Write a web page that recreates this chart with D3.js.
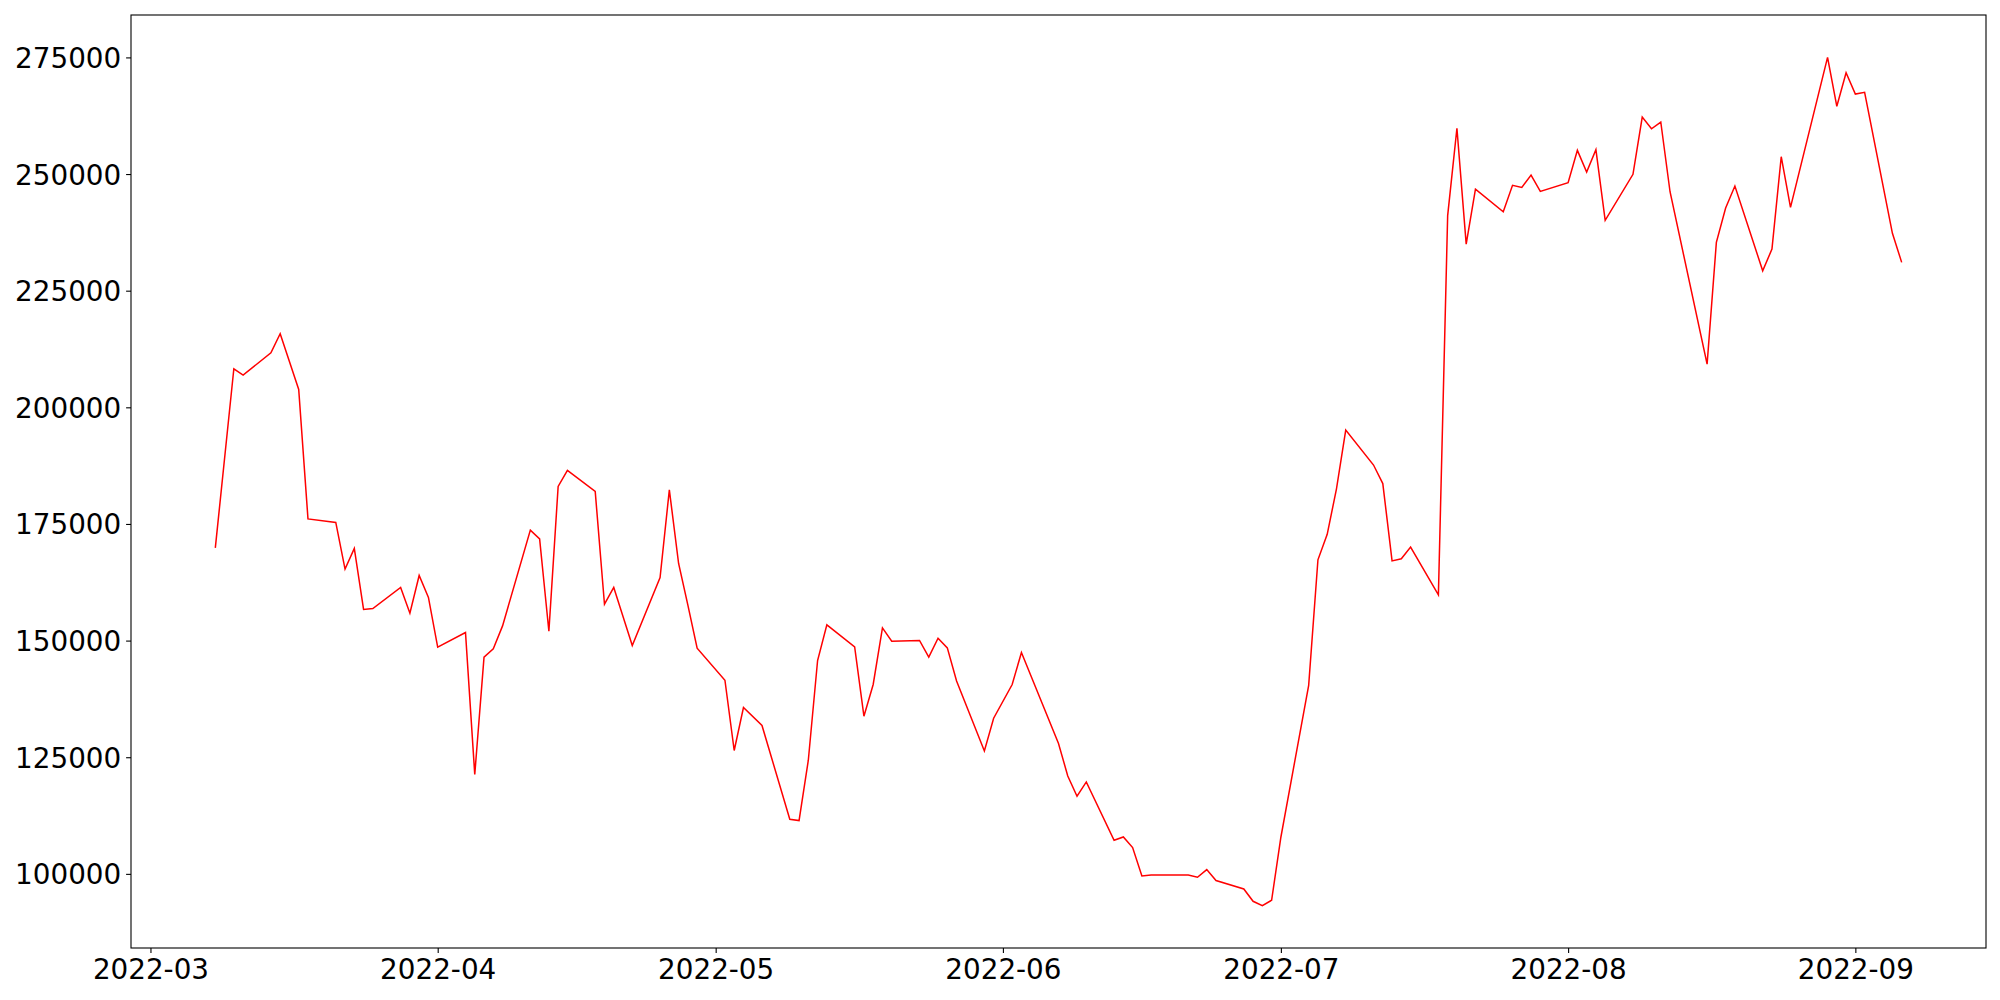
<!DOCTYPE html>
<html>
<head>
<meta charset="utf-8">
<script src="https://cdn.jsdelivr.net/npm/d3@7"></script>
<style>
  html, body { margin: 0; padding: 0; background: #fff; }
  svg { display: block; }
  text { font-family: "DejaVu Sans", sans-serif; }
</style>
</head>
<body>
<svg id="chart" width="2000" height="1000"></svg>
<script>
const dates = [
  "2022-03-08","2022-03-10","2022-03-11","2022-03-14","2022-03-15","2022-03-17","2022-03-18",
  "2022-03-21","2022-03-22","2022-03-23","2022-03-24","2022-03-25","2022-03-28","2022-03-29",
  "2022-03-30","2022-03-31","2022-04-01","2022-04-04","2022-04-05","2022-04-06","2022-04-07",
  "2022-04-08","2022-04-11","2022-04-12","2022-04-13","2022-04-14","2022-04-15","2022-04-18",
  "2022-04-19","2022-04-20","2022-04-21","2022-04-22","2022-04-25","2022-04-26","2022-04-27",
  "2022-04-28","2022-04-29","2022-05-02","2022-05-03","2022-05-04","2022-05-06","2022-05-09",
  "2022-05-10","2022-05-11","2022-05-12","2022-05-13","2022-05-16","2022-05-17","2022-05-18",
  "2022-05-19","2022-05-20","2022-05-23","2022-05-24","2022-05-25","2022-05-26","2022-05-27",
  "2022-05-30","2022-05-31","2022-06-02","2022-06-03","2022-06-07","2022-06-08","2022-06-09",
  "2022-06-10","2022-06-13","2022-06-14","2022-06-15","2022-06-16","2022-06-17","2022-06-21",
  "2022-06-22","2022-06-23","2022-06-24","2022-06-27","2022-06-28","2022-06-29","2022-06-30",
  "2022-07-01","2022-07-04","2022-07-05","2022-07-06","2022-07-07","2022-07-08","2022-07-11",
  "2022-07-12","2022-07-13","2022-07-14","2022-07-15","2022-07-18","2022-07-19","2022-07-20",
  "2022-07-21","2022-07-22","2022-07-25","2022-07-26","2022-07-27","2022-07-28","2022-07-29",
  "2022-08-01","2022-08-02","2022-08-03","2022-08-04","2022-08-05","2022-08-08","2022-08-09",
  "2022-08-10","2022-08-11","2022-08-12","2022-08-16","2022-08-17","2022-08-18","2022-08-19",
  "2022-08-22","2022-08-23","2022-08-24","2022-08-25","2022-08-29","2022-08-30","2022-08-31",
  "2022-09-01","2022-09-02","2022-09-05","2022-09-06"
];
const values = [
  169870,208260,206900,211690,215760,203840,176090,
  175320,165310,169750,156670,156880,161380,155870,
  163960,159240,148580,151740,121290,146440,148220,
  153150,173670,171800,152010,183040,186470,181970,
  157800,161380,155170,148950,163530,182310,166530,
  157590,148370,141510,126440,135660,131800,111710,
  111430,124360,145730,153370,148650,133790,140590,
  152720,149870,150020,146440,150510,148430,141360,
  126350,133360,140590,147450,127940,120990,116640,
  119700,107200,107910,105640,99550,99760,99760,
  99270,100920,98560,96760,94120,93200,94340,
  107850,140420,167320,172770,182530,195130,187630,
  183660,167090,167540,170050,159820,241100,259820,
  234970,246760,241900,247580,247110,249790,246290,
  248130,255080,250430,255210,240070,249940,262220,
  259710,261150,246210,209260,235360,242710,247430,
  229270,233920,253710,242860,275000,264520,271720,
  267150,267520,237290,231070
];
const yTickValues = [100000,125000,150000,175000,200000,225000,250000,275000];
const xTickLabels = ["2022-03","2022-04","2022-05","2022-06","2022-07","2022-08","2022-09"];

(function () {
const parse = d3.utcParse("%Y-%m-%d");
const data = dates.map((d, i) => ({ date: parse(d), value: values[i] }));

const mLeft = 131, mRight = 1986, mTop = 15, mBottom = 948;
const svg = d3.select("#chart");

const xExt = d3.extent(data, d => d.date);
const xPad = (xExt[1] - xExt[0]) * 0.05;
const x = d3.scaleUtc()
  .domain([new Date(+xExt[0] - xPad), new Date(+xExt[1] + xPad)])
  .range([mLeft, mRight]);

const yExt = d3.extent(data, d => d.value);
const yPad = (yExt[1] - yExt[0]) * 0.05;
const y = d3.scaleLinear()
  .domain([yExt[0] - yPad, yExt[1] + yPad])
  .range([mBottom, mTop]);

const line = d3.line().x(d => x(d.date)).y(d => y(d.value));
svg.append("path")
  .datum(data)
  .attr("fill", "none")
  .attr("stroke", "#ff0000")
  .attr("stroke-width", 1.5)
  .attr("stroke-linejoin", "miter")
  .attr("d", line);

const fs = 27.8;
const xTicks = xTickLabels.map(s => d3.utcParse("%Y-%m")(s));
const xAxis = d3.axisBottom(x)
  .tickValues(xTicks)
  .tickFormat(d3.utcFormat("%Y-%m"))
  .tickSize(4.9)
  .tickPadding(4.9)
  .tickSizeOuter(0);
const gx = svg.append("g").attr("transform", `translate(0,${mBottom})`).call(xAxis);
gx.select(".domain").remove();
gx.selectAll(".tick line").attr("stroke", "#000").attr("stroke-width", 1.1);
gx.selectAll(".tick text").attr("font-size", fs).attr("fill", "#000")
  .attr("font-family", "DejaVu Sans").attr("dy", "0.78em");

const yAxis = d3.axisLeft(y)
  .tickValues(yTickValues)
  .tickFormat(d3.format("d"))
  .tickSize(4.9)
  .tickPadding(4.9)
  .tickSizeOuter(0);
const gy = svg.append("g").attr("transform", `translate(${mLeft},0)`).call(yAxis);
gy.select(".domain").remove();
gy.selectAll(".tick line").attr("stroke", "#000").attr("stroke-width", 1.1);
gy.selectAll(".tick text").attr("font-size", fs).attr("fill", "#000")
  .attr("font-family", "DejaVu Sans").attr("dy", "0.36em");

svg.append("rect")
  .attr("x", mLeft).attr("y", mTop)
  .attr("width", mRight - mLeft).attr("height", mBottom - mTop)
  .attr("fill", "none").attr("stroke", "#000").attr("stroke-width", 1.1);
})();
</script>
</body>
</html>
